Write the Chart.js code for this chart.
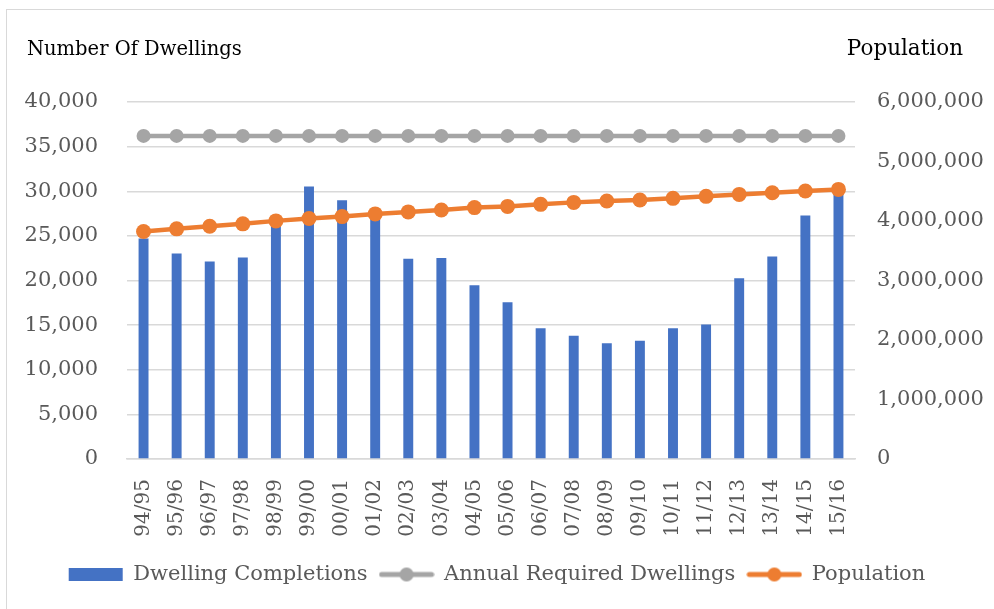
<!DOCTYPE html>
<html>
<head>
<meta charset="utf-8">
<script src="https://cdn.jsdelivr.net/npm/chart.js@4/dist/chart.umd.min.js"></script>
<style>
  html, body { margin: 0; padding: 0; background: #fff; }
  #wrap { position: relative; width: 994px; height: 609px; }
  #frame { position: absolute; left: 6px; top: 9px; right: -2px; bottom: -2px;
           border-left: 1px solid #d9d9d9; border-top: 1px solid #d9d9d9; }
  .axis-title { position: absolute; top: 37px; font-family: "DejaVu Serif", serif;
                font-size: 19.5px; line-height: 24px; color: #000; white-space: nowrap; }
</style>
</head>
<body>
<div id="wrap">
  <div id="frame"></div>
  <canvas id="housing-chart" width="994" height="609"></canvas>
  <div class="axis-title" style="left:27px">Number Of Dwellings</div>
  <div class="axis-title" style="right:31px; font-size:21.5px; top:36px">Population</div>
</div>
<script>
const years = ["94/95", "95/96", "96/97", "97/98", "98/99", "99/00", "00/01", "01/02",
  "02/03", "03/04", "04/05", "05/06", "06/07", "07/08", "08/09", "09/10", "10/11",
  "11/12", "12/13", "13/14", "14/15", "15/16"];

const completions = [24700, 23030, 22140, 22590, 26500, 30540, 28980, 27300,
  22440, 22510, 19460, 17560, 14660, 13800, 12980, 13240, 14660,
  15070, 20240, 22700, 27270, 29900];

const requiredDwellings = [36200, 36200, 36200, 36200, 36200, 36200, 36200, 36200,
  36200, 36200, 36200, 36200, 36200, 36200, 36200, 36200, 36200,
  36200, 36200, 36200, 36200, 36200];

const population = [3823000, 3868000, 3912000, 3952000, 4002000, 4041000, 4074000, 4119000,
  4153000, 4186000, 4225000, 4245000, 4280000, 4313000, 4337000, 4354000, 4381000,
  4414000, 4447000, 4475000, 4504000, 4531000];

const leftTicks = [0, 5000, 10000, 15000, 20000, 25000, 30000, 35000, 40000];
const rightTicks = [0, 1000000, 2000000, 3000000, 4000000, 5000000, 6000000];

const BLUE = "#4472C4";
const GREY = "#A5A5A5";
const ORANGE = "#ED7D31";
const TICK_COLOR = "#595959";
const GRID_COLOR = "#D9D9D9";
const FONT = "'DejaVu Serif', serif";

// legend icon: line with a marker in the middle, like Excel
function lineIcon(color) {
  const c = document.createElement("canvas");
  c.width = 56;
  c.height = 16;
  const g = c.getContext("2d");
  g.strokeStyle = color;
  g.lineWidth = 5;
  g.lineCap = "round";
  g.beginPath();
  g.moveTo(3, 8);
  g.lineTo(53, 8);
  g.stroke();
  g.fillStyle = color;
  g.beginPath();
  g.arc(28, 8, 7, 0, Math.PI * 2);
  g.fill();
  return c;
}
const icons = [null, lineIcon(GREY), lineIcon(ORANGE)];

const fmt = (v) => Number(v).toLocaleString("en-US");

const data = {
  labels: years,
  datasets: [
    {
      type: "bar",
      label: "Dwelling Completions",
      data: completions,
      backgroundColor: BLUE,
      borderWidth: 0,
      barPercentage: 0.6,
      categoryPercentage: 0.5,
      yAxisID: "y",
      order: 3,
    },
    {
      type: "line",
      label: "Annual Required Dwellings",
      data: requiredDwellings,
      borderColor: GREY,
      backgroundColor: GREY,
      borderWidth: 4.5,
      pointRadius: 7,
      pointHoverRadius: 7,
      pointBorderWidth: 0,
      tension: 0,
      yAxisID: "y",
      order: 2,
    },
    {
      type: "line",
      label: "Population",
      data: population,
      borderColor: ORANGE,
      backgroundColor: ORANGE,
      borderWidth: 4.5,
      pointRadius: 7.5,
      pointHoverRadius: 7.5,
      pointBorderWidth: 0,
      tension: 0,
      yAxisID: "y1",
      order: 1,
    },
  ],
};

const config = {
  type: "bar",
  data: data,
  options: {
    responsive: false,
    animation: false,
    layout: { padding: { top: 102, left: 0, right: 0, bottom: 14 } },
    plugins: {
      tooltip: { enabled: false },
      legend: {
        position: "bottom",
        labels: {
          font: { family: FONT, size: 21 },
          color: TICK_COLOR,
          usePointStyle: true,
          pointStyleWidth: 54,
          boxHeight: 13,
          padding: 12,
          generateLabels: (chart) => {
            const items = Chart.defaults.plugins.legend.labels.generateLabels(chart);
            items.sort((a, b) => a.datasetIndex - b.datasetIndex);
            items.forEach((it) => {
              it.pointStyle = icons[it.datasetIndex] || "rect";
              it.lineWidth = 0;
              it.strokeStyle = "transparent";
            });
            return items;
          },
        },
      },
    },
    scales: {
      x: {
        grid: { display: false },
        border: { display: true, color: GRID_COLOR, width: 1.5 },
        ticks: {
          font: { family: FONT, size: 20 },
          color: TICK_COLOR,
          minRotation: 90,
          maxRotation: 90,
          padding: 12,
        },
        afterFit: (scale) => { scale.height = 93; },
      },
      y: {
        position: "left",
        min: 0,
        max: 40000,
        afterBuildTicks: (scale) => { scale.ticks = leftTicks.map((v) => ({ value: v })); },
        grid: { color: GRID_COLOR, lineWidth: 1.5, drawTicks: false },
        border: { display: false },
        ticks: {
          font: { family: FONT, size: 21 },
          color: TICK_COLOR,
          padding: 29,
          callback: fmt,
        },
        afterFit: (scale) => { scale.width = 127; },
      },
      y1: {
        position: "right",
        min: 0,
        max: 6000000,
        afterBuildTicks: (scale) => { scale.ticks = rightTicks.map((v) => ({ value: v })); },
        grid: { drawOnChartArea: false, drawTicks: false },
        border: { display: false },
        ticks: {
          font: { family: FONT, size: 21 },
          color: TICK_COLOR,
          padding: 22,
          callback: fmt,
        },
        afterFit: (scale) => { scale.width = 139; },
      },
    },
  },
};

new Chart(document.getElementById("housing-chart"), config);
</script>
</body>
</html>
